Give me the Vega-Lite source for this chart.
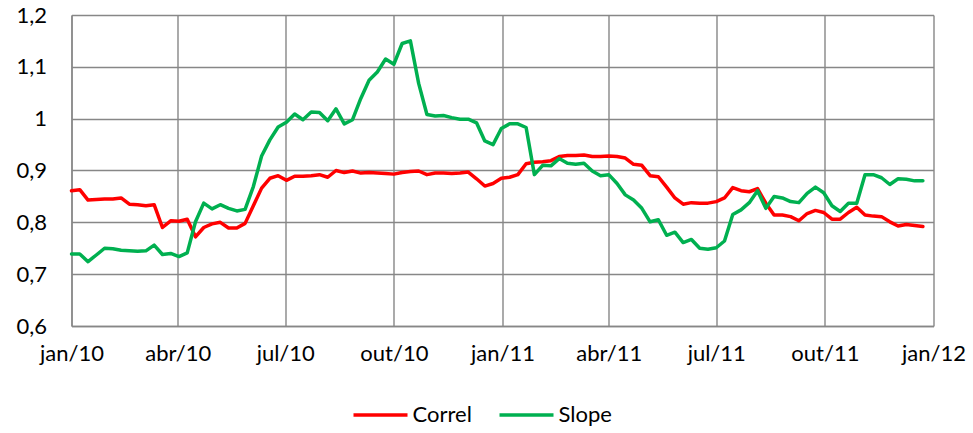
{
  "$schema": "https://vega.github.io/schema/vega-lite/v6.json",
  "width": 862,
  "height": 311,
  "autosize": "none",
  "padding": {"left": 71.5, "top": 15, "right": 39.5, "bottom": 107},
  "background": "white",
  "config": {"font": "Lato", "view": {"stroke": null}},
  "data": {"values": [
    {"date": "2010-01-01", "Correl": 0.861, "Slope": 0.739},
    {"date": "2010-01-08", "Correl": 0.863, "Slope": 0.739},
    {"date": "2010-01-15", "Correl": 0.843, "Slope": 0.724},
    {"date": "2010-01-22", "Correl": 0.844, "Slope": 0.737},
    {"date": "2010-01-29", "Correl": 0.845, "Slope": 0.750},
    {"date": "2010-02-05", "Correl": 0.845, "Slope": 0.749},
    {"date": "2010-02-12", "Correl": 0.847, "Slope": 0.746},
    {"date": "2010-02-19", "Correl": 0.835, "Slope": 0.745},
    {"date": "2010-02-26", "Correl": 0.834, "Slope": 0.744},
    {"date": "2010-03-05", "Correl": 0.832, "Slope": 0.745},
    {"date": "2010-03-12", "Correl": 0.834, "Slope": 0.756},
    {"date": "2010-03-19", "Correl": 0.790, "Slope": 0.738},
    {"date": "2010-03-26", "Correl": 0.803, "Slope": 0.740},
    {"date": "2010-04-02", "Correl": 0.802, "Slope": 0.734},
    {"date": "2010-04-09", "Correl": 0.806, "Slope": 0.741},
    {"date": "2010-04-16", "Correl": 0.772, "Slope": 0.801},
    {"date": "2010-04-23", "Correl": 0.790, "Slope": 0.837},
    {"date": "2010-04-30", "Correl": 0.797, "Slope": 0.826},
    {"date": "2010-05-07", "Correl": 0.800, "Slope": 0.834},
    {"date": "2010-05-14", "Correl": 0.789, "Slope": 0.827},
    {"date": "2010-05-21", "Correl": 0.789, "Slope": 0.822},
    {"date": "2010-05-28", "Correl": 0.798, "Slope": 0.825},
    {"date": "2010-06-04", "Correl": 0.832, "Slope": 0.869},
    {"date": "2010-06-11", "Correl": 0.866, "Slope": 0.928},
    {"date": "2010-06-18", "Correl": 0.885, "Slope": 0.959},
    {"date": "2010-06-25", "Correl": 0.890, "Slope": 0.984},
    {"date": "2010-07-02", "Correl": 0.881, "Slope": 0.993},
    {"date": "2010-07-09", "Correl": 0.889, "Slope": 1.009},
    {"date": "2010-07-16", "Correl": 0.889, "Slope": 0.998},
    {"date": "2010-07-23", "Correl": 0.890, "Slope": 1.013},
    {"date": "2010-07-30", "Correl": 0.892, "Slope": 1.012},
    {"date": "2010-08-06", "Correl": 0.887, "Slope": 0.996},
    {"date": "2010-08-13", "Correl": 0.900, "Slope": 1.019},
    {"date": "2010-08-20", "Correl": 0.896, "Slope": 0.990},
    {"date": "2010-08-27", "Correl": 0.899, "Slope": 0.998},
    {"date": "2010-09-03", "Correl": 0.895, "Slope": 1.039},
    {"date": "2010-09-10", "Correl": 0.896, "Slope": 1.074},
    {"date": "2010-09-17", "Correl": 0.895, "Slope": 1.090},
    {"date": "2010-09-24", "Correl": 0.894, "Slope": 1.115},
    {"date": "2010-10-01", "Correl": 0.893, "Slope": 1.105},
    {"date": "2010-10-08", "Correl": 0.896, "Slope": 1.145},
    {"date": "2010-10-15", "Correl": 0.898, "Slope": 1.150},
    {"date": "2010-10-22", "Correl": 0.899, "Slope": 1.068},
    {"date": "2010-10-29", "Correl": 0.892, "Slope": 1.008},
    {"date": "2010-11-05", "Correl": 0.895, "Slope": 1.005},
    {"date": "2010-11-12", "Correl": 0.895, "Slope": 1.006},
    {"date": "2010-11-19", "Correl": 0.894, "Slope": 1.002},
    {"date": "2010-11-26", "Correl": 0.895, "Slope": 0.999},
    {"date": "2010-12-03", "Correl": 0.897, "Slope": 0.999},
    {"date": "2010-12-10", "Correl": 0.884, "Slope": 0.992},
    {"date": "2010-12-17", "Correl": 0.870, "Slope": 0.957},
    {"date": "2010-12-24", "Correl": 0.875, "Slope": 0.950},
    {"date": "2010-12-31", "Correl": 0.885, "Slope": 0.981},
    {"date": "2011-01-07", "Correl": 0.887, "Slope": 0.990},
    {"date": "2011-01-14", "Correl": 0.892, "Slope": 0.990},
    {"date": "2011-01-21", "Correl": 0.913, "Slope": 0.983},
    {"date": "2011-01-28", "Correl": 0.916, "Slope": 0.892},
    {"date": "2011-02-04", "Correl": 0.917, "Slope": 0.910},
    {"date": "2011-02-11", "Correl": 0.919, "Slope": 0.909},
    {"date": "2011-02-18", "Correl": 0.927, "Slope": 0.923},
    {"date": "2011-02-25", "Correl": 0.929, "Slope": 0.914},
    {"date": "2011-03-04", "Correl": 0.929, "Slope": 0.912},
    {"date": "2011-03-11", "Correl": 0.930, "Slope": 0.914},
    {"date": "2011-03-18", "Correl": 0.927, "Slope": 0.899},
    {"date": "2011-03-25", "Correl": 0.927, "Slope": 0.890},
    {"date": "2011-04-01", "Correl": 0.928, "Slope": 0.892},
    {"date": "2011-04-08", "Correl": 0.927, "Slope": 0.875},
    {"date": "2011-04-15", "Correl": 0.924, "Slope": 0.853},
    {"date": "2011-04-22", "Correl": 0.912, "Slope": 0.843},
    {"date": "2011-04-29", "Correl": 0.910, "Slope": 0.827},
    {"date": "2011-05-06", "Correl": 0.890, "Slope": 0.801},
    {"date": "2011-05-13", "Correl": 0.888, "Slope": 0.805},
    {"date": "2011-05-20", "Correl": 0.868, "Slope": 0.775},
    {"date": "2011-05-27", "Correl": 0.847, "Slope": 0.781},
    {"date": "2011-06-03", "Correl": 0.835, "Slope": 0.761},
    {"date": "2011-06-10", "Correl": 0.838, "Slope": 0.767},
    {"date": "2011-06-17", "Correl": 0.837, "Slope": 0.750},
    {"date": "2011-06-24", "Correl": 0.837, "Slope": 0.748},
    {"date": "2011-07-01", "Correl": 0.840, "Slope": 0.751},
    {"date": "2011-07-08", "Correl": 0.847, "Slope": 0.764},
    {"date": "2011-07-15", "Correl": 0.867, "Slope": 0.815},
    {"date": "2011-07-22", "Correl": 0.861, "Slope": 0.824},
    {"date": "2011-07-29", "Correl": 0.859, "Slope": 0.838},
    {"date": "2011-08-05", "Correl": 0.865, "Slope": 0.861},
    {"date": "2011-08-12", "Correl": 0.837, "Slope": 0.827},
    {"date": "2011-08-19", "Correl": 0.814, "Slope": 0.850},
    {"date": "2011-08-26", "Correl": 0.814, "Slope": 0.847},
    {"date": "2011-09-02", "Correl": 0.811, "Slope": 0.840},
    {"date": "2011-09-09", "Correl": 0.803, "Slope": 0.838},
    {"date": "2011-09-16", "Correl": 0.817, "Slope": 0.856},
    {"date": "2011-09-23", "Correl": 0.823, "Slope": 0.868},
    {"date": "2011-09-30", "Correl": 0.819, "Slope": 0.857},
    {"date": "2011-10-07", "Correl": 0.806, "Slope": 0.832},
    {"date": "2011-10-14", "Correl": 0.806, "Slope": 0.821},
    {"date": "2011-10-21", "Correl": 0.819, "Slope": 0.837},
    {"date": "2011-10-28", "Correl": 0.829, "Slope": 0.837},
    {"date": "2011-11-04", "Correl": 0.814, "Slope": 0.892},
    {"date": "2011-11-11", "Correl": 0.812, "Slope": 0.892},
    {"date": "2011-11-18", "Correl": 0.811, "Slope": 0.886},
    {"date": "2011-11-25", "Correl": 0.801, "Slope": 0.873},
    {"date": "2011-12-02", "Correl": 0.793, "Slope": 0.884},
    {"date": "2011-12-09", "Correl": 0.796, "Slope": 0.883},
    {"date": "2011-12-16", "Correl": 0.794, "Slope": 0.880},
    {"date": "2011-12-23", "Correl": 0.792, "Slope": 0.880}
  ]},
  "transform": [{"fold": ["Correl", "Slope"], "as": ["series", "value"]}],
  "mark": {"type": "line", "strokeWidth": 3.5, "strokeJoin": "round", "strokeCap": "round"},
  "encoding": {
    "x": {
      "field": "date",
      "type": "temporal",
      "scale": {"type": "utc", "domain": [{"year": 2010, "month": 1, "date": 1, "utc": true}, {"year": 2012, "month": 1, "date": 1, "utc": true}]},
      "axis": {
        "title": null,
        "values": [
          {"year": 2010, "month": 1, "date": 1, "utc": true},
          {"year": 2010, "month": 4, "date": 1, "utc": true},
          {"year": 2010, "month": 7, "date": 1, "utc": true},
          {"year": 2010, "month": 10, "date": 1, "utc": true},
          {"year": 2011, "month": 1, "date": 1, "utc": true},
          {"year": 2011, "month": 4, "date": 1, "utc": true},
          {"year": 2011, "month": 7, "date": 1, "utc": true},
          {"year": 2011, "month": 10, "date": 1, "utc": true},
          {"year": 2012, "month": 1, "date": 1, "utc": true}
        ],
        "labelExpr": "['jan','fev','mar','abr','mai','jun','jul','ago','set','out','nov','dez'][utcmonth(datum.value)] + '/' + utcFormat(datum.value, '%y')",
        "grid": true,
        "gridColor": "#878787",
        "gridWidth": 1.4,
        "domain": true,
        "domainColor": "#878787",
        "domainWidth": 1.4,
        "ticks": false,
        "labelFontSize": 22,
        "labelColor": "#000000",
        "labelPadding": 17,
        "labelFlush": false,
        "labelOverlap": false
      }
    },
    "y": {
      "field": "value",
      "type": "quantitative",
      "scale": {"domain": [0.6, 1.2], "nice": false, "zero": false},
      "axis": {
        "title": null,
        "values": [0.6, 0.7, 0.8, 0.9, 1.0, 1.1, 1.2],
        "labelExpr": "replace(format(datum.value, '.1~f'), '.', ',')",
        "grid": true,
        "gridColor": "#878787",
        "gridWidth": 1.4,
        "domain": true,
        "domainColor": "#878787",
        "domainWidth": 1.4,
        "ticks": false,
        "labelFontSize": 22,
        "labelColor": "#000000",
        "labelPadding": 25,
        "labelFlush": false,
        "labelOverlap": false
      }
    },
    "color": {
      "field": "series",
      "type": "nominal",
      "scale": {"domain": ["Correl", "Slope"], "range": ["#FF0000", "#00B050"]},
      "legend": {
        "title": null,
        "orient": "none",
        "direction": "horizontal",
        "legendX": 280,
        "legendY": 371,
        "symbolType": "stroke",
        "symbolSize": 2916,
        "symbolStrokeWidth": 3.5,
        "labelFontSize": 22,
        "labelColor": "#000000",
        "labelOffset": 3,
        "columnPadding": 20
      }
    }
  }
}
